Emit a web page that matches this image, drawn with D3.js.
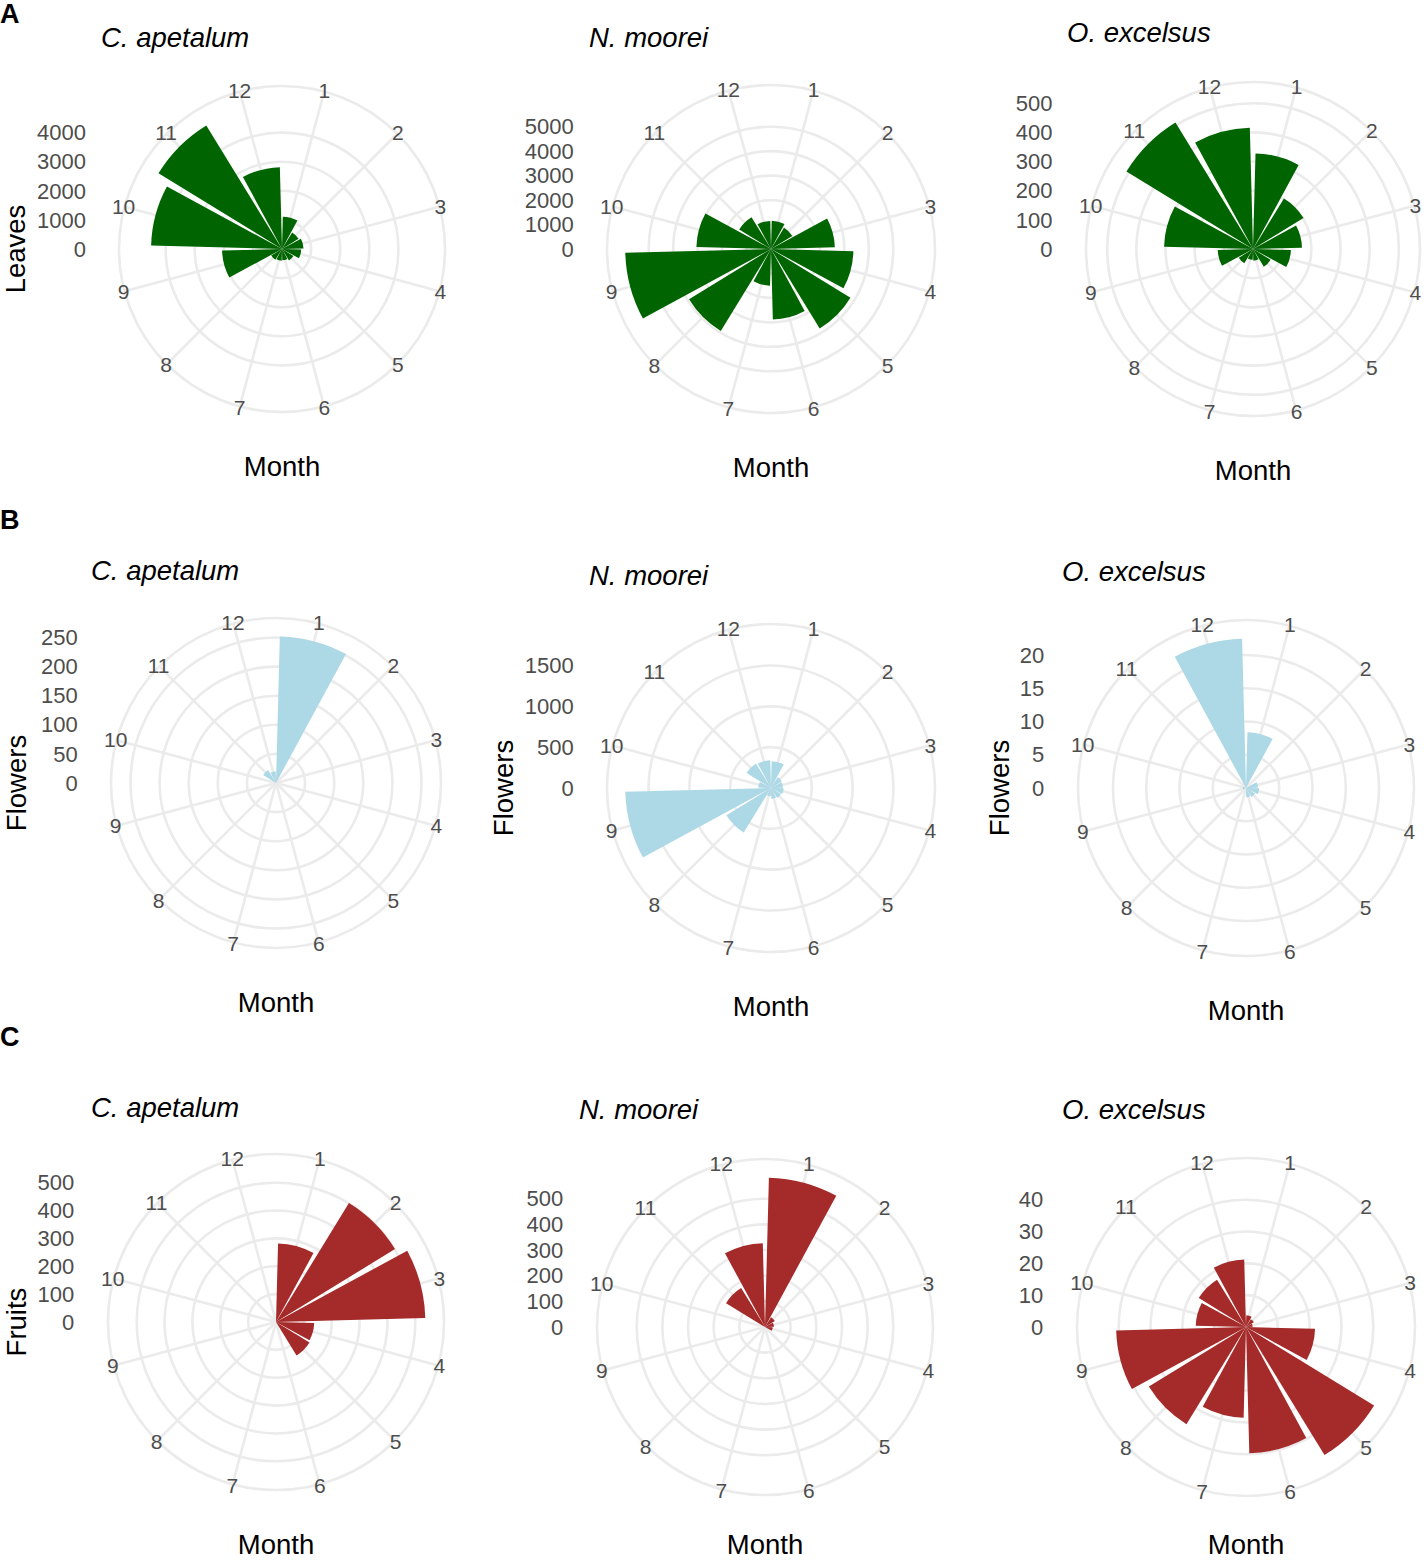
<!DOCTYPE html>
<html>
<head>
<meta charset="utf-8">
<script src="https://cdn.jsdelivr.net/npm/d3@7"></script>
<style>
  body { margin: 0; background: #fff; }
  svg text { font-family: "Liberation Sans", Arial, Helvetica, sans-serif; }
  .grid { fill: none; stroke: #ebebeb; stroke-width: 2.6; }
  .tick { fill: #4d4d4d; font-size: 22px; }
  .theta { fill: #4d4d4d; font-size: 21px; }
  .title { fill: #000; font-size: 27.5px; font-style: italic; }
  .axis-title { fill: #000; font-size: 27.5px; }
  .tag { fill: #000; font-size: 27px; font-weight: bold; }
</style>
</head>
<body>
<svg id="chart" width="1427" height="1562"></svg>
<script>
const months = d3.range(1, 13);
const species = ["C. apetalum", "N. moorei", "O. excelsus"];
const rowTags = ["A", "B", "C"];
const measures = ["Leaves", "Flowers", "Fruits"];

// monthly counts, one array per species (months 1..12)
const leaves = [
  [1110, 670, 740, 660, 460, 390, 400, 435, 2060, 4500, 4980, 2815],
  [1160, 1020, 2610, 3370, 3810, 2885, 1500, 3930, 5960, 3050, 1525, 1150],
  [328, 203, 168, 130, 71, 40, 37, 57, 121, 305, 509, 416]
];
const flowers = [
  [252, 0, 0, 0, 0, 0, 0, 0, 0, 0, 26, 20],
  [327, 155, 147, 155, 143, 131, 102, 640, 1785, 155, 351, 339],
  [8.4, 0, 1.8, 2.0, 1.6, 1.4, 0, 0, 0.5, 0.5, 0, 22.45]
];
const fruits = [
  [282, 501, 536, 137, 141, 0, 0, 0, 0, 0, 0, 0],
  [582, 45, 35, 30, 0, 0, 0, 0, 0, 0, 178, 327],
  [3.7, 2.9, 2.1, 21.7, 47.2, 39.7, 28.5, 35.8, 40.8, 15.8, 17.4, 21.2]
];

const leafTicks = [
  [0, 1000, 2000, 3000, 4000],
  [0, 1000, 2000, 3000, 4000, 5000],
  [0, 100, 200, 300, 400, 500]
];
const flowerTicks = [
  [0, 50, 100, 150, 200, 250],
  [0, 500, 1000, 1500],
  [0, 5, 10, 15, 20]
];
const fruitTicks = [
  [0, 100, 200, 300, 400, 500],
  [0, 100, 200, 300, 400, 500],
  [0, 10, 20, 30, 40]
];

const rows = [
  { values: leaves, ticks: leafTicks, color: "#006400", yTitle: [true, false, false] },
  { values: flowers, ticks: flowerTicks, color: "#add8e6", yTitle: [true, true, true] },
  { values: fruits, ticks: fruitTicks, color: "#a52a2a", yTitle: [true, false, false] }
];

// layout: centre x, centre y, outer ring radius per panel
const layout = [
  [[282, 249, 163], [771, 249, 164], [1253, 249, 167]],
  [[276, 783, 165], [771, 788, 164], [1246, 788, 168]],
  [[276, 1322, 168], [765, 1327, 168], [1246, 1327, 169]]
];
const titlePos = [
  [[101, 47], [589, 47], [1067, 42]],
  [[91, 580], [589, 585], [1062, 581]],
  [[91, 1117], [579, 1119], [1062, 1119]]
];
const yTitleX = [[15], [16, 503, 999], [16]];
const tagY = [23, 529, 1046];

const svg = d3.select("#chart");

const angle = d3.scaleBand()
  .domain(months)
  .range([0, 2 * Math.PI])
  .paddingInner(0.1)
  .paddingOuter(0.05);
const mid = m => angle(m) + angle.bandwidth() / 2;
const arc = d3.arc().innerRadius(0);

rows.forEach((row, i) => {
  svg.append("text")
    .attr("class", "tag")
    .attr("x", 0)
    .attr("y", tagY[i])
    .text(rowTags[i]);

  row.values.forEach((vals, j) => {
    const [cx, cy, R] = layout[i][j];
    const ticks = row.ticks[j];
    const r = d3.scaleLinear()
      .domain([0, d3.max(vals)])
      .range([0, R * 0.4 / 0.45]);

    const g = svg.append("g").attr("transform", `translate(${cx},${cy})`);

    // spokes and rings
    g.selectAll("line.spoke")
      .data(months)
      .join("line")
      .attr("class", "grid spoke")
      .attr("x1", 0).attr("y1", 0)
      .attr("x2", m => R * Math.sin(mid(m)))
      .attr("y2", m => -R * Math.cos(mid(m)));

    g.selectAll("circle.ring")
      .data(ticks.filter(t => t > 0).map(t => r(t)).concat([R]))
      .join("circle")
      .attr("class", "grid ring")
      .attr("r", d => d);

    // bars
    g.selectAll("path.bar")
      .data(months)
      .join("path")
      .attr("class", "bar")
      .attr("fill", row.color)
      .attr("d", m => arc({
        outerRadius: r(vals[m - 1]),
        startAngle: angle(m),
        endAngle: angle(m) + angle.bandwidth()
      }));

    // month labels on the outer ring
    g.selectAll("text.theta")
      .data(months)
      .join("text")
      .attr("class", "theta")
      .attr("text-anchor", "middle")
      .attr("dy", "0.35em")
      .attr("x", m => (R + 1) * Math.sin(mid(m)))
      .attr("y", m => -(R + 1) * Math.cos(mid(m)))
      .text(m => m);

    // radial axis labels on the left
    const panelLeft = cx - R / 0.9;
    svg.append("g")
      .selectAll("text")
      .data(ticks)
      .join("text")
      .attr("class", "tick")
      .attr("text-anchor", "end")
      .attr("dy", "0.35em")
      .attr("x", panelLeft - 15)
      .attr("y", t => cy - r(t))
      .text(t => t);

    svg.append("text")
      .attr("class", "title")
      .attr("x", titlePos[i][j][0])
      .attr("y", titlePos[i][j][1])
      .text(species[j]);

    svg.append("text")
      .attr("class", "axis-title")
      .attr("text-anchor", "middle")
      .attr("x", cx)
      .attr("y", Math.min(cy + R + 64, 1554))
      .text("Month");

    if (row.yTitle[j]) {
      svg.append("text")
        .attr("class", "axis-title")
        .attr("text-anchor", "middle")
        .attr("transform", `translate(${yTitleX[i][j]},${cy}) rotate(-90)`)
        .attr("dy", "0.35em")
        .text(measures[i]);
    }
  });
});
</script>
</body>
</html>
